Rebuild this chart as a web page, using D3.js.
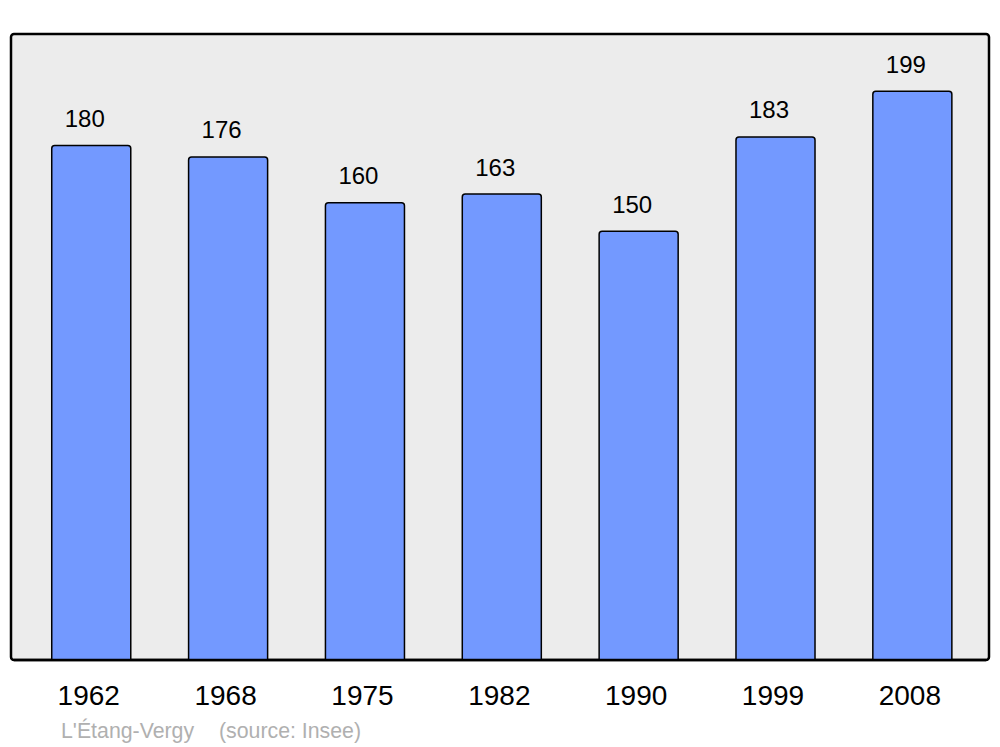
<!DOCTYPE html>
<html>
<head>
<meta charset="utf-8">
<script src="https://cdn.jsdelivr.net/npm/d3@7"></script>
<style>
  html, body { margin: 0; padding: 0; background: #ffffff; }
  svg { display: block; }
  text { font-family: "Liberation Sans", Arial, sans-serif; }
</style>
</head>
<body>
<svg id="chart" width="1000" height="747"></svg>
<script>
const years = ["1962", "1968", "1975", "1982", "1990", "1999", "2008"];
const population = [180, 176, 160, 163, 150, 183, 199];
const yDomainMax = 219;
const placeLabel = "L'Étang-Vergy";
const sourceLabel = "(source: Insee)";

const data = years.map((y, i) => ({ year: y, value: population[i] }));

const svg = d3.select("#chart");
const panel = { x0: 11, x1: 989, y0: 34, y1: 660 };

svg.append("rect")
  .attr("x", panel.x0).attr("y", panel.y0)
  .attr("width", panel.x1 - panel.x0).attr("height", panel.y1 - panel.y0)
  .attr("rx", 3).attr("ry", 3)
  .attr("fill", "#ececec")
  .attr("stroke", "#000").attr("stroke-width", 2.5);

const x = d3.scaleBand()
  .domain(years)
  .range([23, 980.6])
  .paddingInner(0.4225)
  .paddingOuter(0.21);

const y = d3.scaleLinear()
  .domain([0, yDomainMax])
  .range([panel.y1, panel.y0]);

svg.append("g").selectAll("path")
  .data(data)
  .join("path")
  .attr("d", d => {
    const x0 = x(d.year), w = x.bandwidth();
    const yt = y(d.value), yb = y(0);
    const r = 3;
    return `M${x0},${yb} L${x0},${yt + r} Q${x0},${yt} ${x0 + r},${yt} L${x0 + w - r},${yt} Q${x0 + w},${yt} ${x0 + w},${yt + r} L${x0 + w},${yb}`;
  })
  .attr("fill", "#7399ff")
  .attr("stroke", "#000")
  .attr("stroke-width", 1.5);

// redraw panel bottom line over bars
svg.append("line")
  .attr("x1", panel.x0 + 3).attr("x2", panel.x1 - 3)
  .attr("y1", panel.y1).attr("y2", panel.y1)
  .attr("stroke", "#000").attr("stroke-width", 2.5);

svg.append("g").selectAll("text")
  .data(data)
  .join("text")
  .attr("x", d => x(d.year) + x.bandwidth() / 2 - 6.5)
  .attr("y", d => y(d.value) - 18.5)
  .attr("text-anchor", "middle")
  .attr("font-size", 24)
  .attr("fill", "#000")
  .text(d => d.value);

const xAxis = d3.axisBottom(x).tickSize(0).tickPadding(0);
const gx = svg.append("g")
  .attr("transform", `translate(-2.5, ${panel.y1})`)
  .call(xAxis);
gx.select(".domain").remove();
gx.selectAll("text")
  .attr("font-size", 28)
  .attr("font-family", "\"Liberation Sans\", Arial, sans-serif")
  .attr("fill", "#000")
  .attr("dy", null)
  .attr("y", 45);

svg.append("text")
  .attr("x", 61).attr("y", 738)
  .attr("font-size", 21.3)
  .attr("fill", "#b0b0b0")
  .text(placeLabel);

svg.append("text")
  .attr("x", 219).attr("y", 738)
  .attr("font-size", 21.3)
  .attr("fill", "#b0b0b0")
  .text(sourceLabel);
</script>
</body>
</html>
